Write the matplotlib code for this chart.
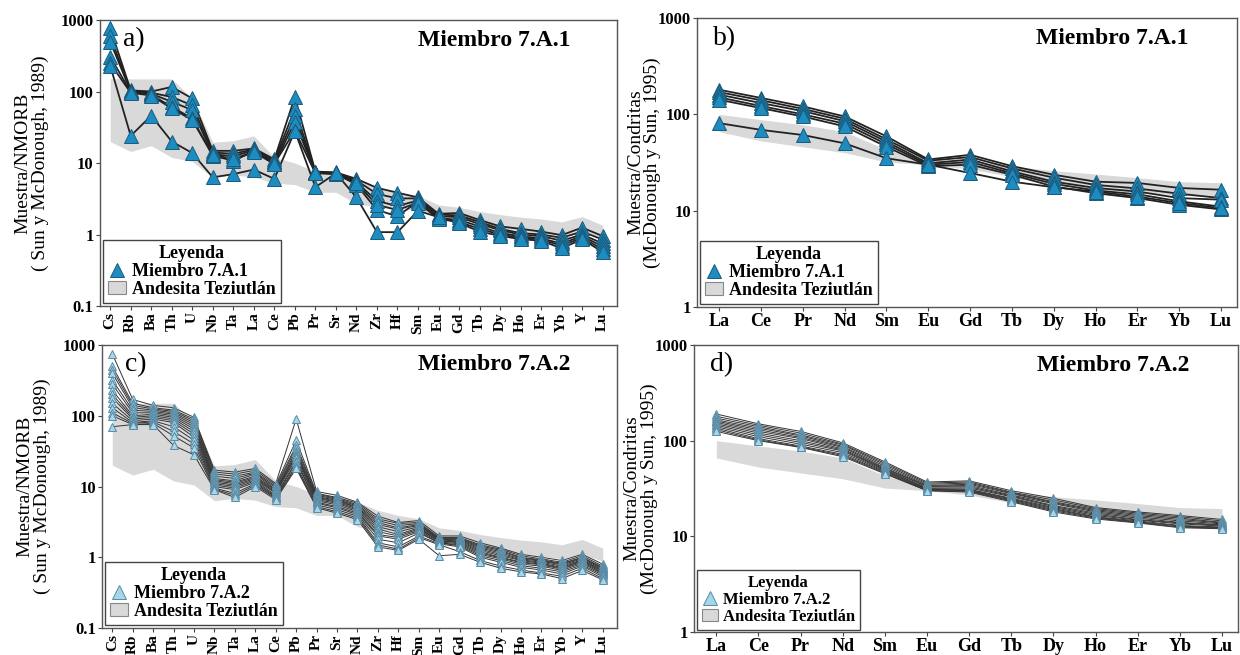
import numpy as np
import matplotlib.pyplot as plt
from matplotlib.lines import Line2D
from matplotlib.patches import Patch
from matplotlib.ticker import FixedLocator, FixedFormatter, NullLocator

plt.rcParams['font.family'] = ['Liberation Serif', 'DejaVu Serif']

# Element lists
spider_el = ["Cs", "Rb", "Ba", "Th", "U", "Nb", "Ta", "La", "Ce", "Pb", "Pr", "Sr", "Nd",
             "Zr", "Hf", "Sm", "Eu", "Gd", "Tb", "Dy", "Ho", "Er", "Yb", "Y", "Lu"]
ree_el = ["La", "Ce", "Pr", "Nd", "Sm", "Eu", "Gd", "Tb", "Dy", "Ho", "Er", "Yb", "Lu"]

# Andesita Teziutlan field (NMORB normalised)
band_spider_hi = [152, 150, 150, 150, 80, 19.5, 20.5, 24, 12, 10, 7.6, 7.4, 6.0,
                  4.6, 3.9, 3.5, 2.6, 2.4, 2.1, 1.9, 1.75, 1.65, 1.5, 1.78, 1.35]
band_spider_lo = [20, 14.5, 17.5, 12, 10.5, 6.3, 6.8, 6.4, 5.2, 5.0, 3.9, 3.9, 2.7,
                  2.4, 2.3, 2.2, 1.9, 1.7, 1.45, 1.25, 1.12, 1.03, 0.95, 1.1, 0.88]
# Andesita Teziutlan field (chondrite normalised)
band_ree_hi = [100, 88, 78, 66, 43, 34, 33, 29, 26, 24, 22, 20, 19.5]
band_ree_lo = [66, 53, 46, 40, 32, 30, 27, 22.5, 18.5, 16.5, 15.5, 14.5, 14]

# Miembro 7.A.1 - NMORB
m1_spider = [
    [770, 104, 100, 116, 80, 14.8, 14.8, 16, 11.3, 84, 7.6, 7.4, 6.0, 4.5, 3.85, 3.3, 1.95, 2.0, 1.6, 1.3, 1.2, 1.1, 0.98, 1.25, 0.95],
    [590, 102, 96, 84, 64, 14.0, 13.5, 15.5, 10.8, 57, 7.5, 7.3, 5.7, 3.7, 3.2, 3.2, 1.9, 1.85, 1.5, 1.2, 1.05, 1.0, 0.9, 1.1, 0.85],
    [500, 100, 93, 72, 55, 13.2, 12.5, 15, 10.2, 45, 7.4, 7.2, 5.4, 2.95, 2.5, 3.0, 1.8, 1.75, 1.4, 1.15, 1.0, 0.95, 0.82, 1.0, 0.75],
    [308, 98, 90, 61, 42, 12.6, 10.8, 14.5, 9.6, 37.5, 7.3, 7.1, 5.0, 2.2, 1.8, 2.9, 1.7, 1.6, 1.3, 1.05, 0.95, 0.88, 0.75, 0.95, 0.68],
    [248, 96, 88, 58, 40, 12.8, 11.5, 14.2, 9.8, 28.5, 7.2, 7.0, 5.2, 2.6, 2.2, 2.8, 1.65, 1.5, 1.2, 1.0, 0.9, 0.85, 0.7, 0.9, 0.62],
    [230, 24, 46, 20, 13.8, 6.3, 7.0, 8.1, 6.0, 28, 4.6, 7.2, 3.3, 1.08, 1.08, 2.15, 1.75, 1.45, 1.1, 0.96, 0.86, 0.82, 0.64, 0.86, 0.57],
]
# Miembro 7.A.1 - chondrite
m1_ree = [
    [180, 148, 121, 95, 59, 34, 38, 29, 23.6, 20, 19.4, 17.2, 16.5],
    [170, 140, 114, 90, 55, 33, 36, 27.5, 22, 18.5, 17, 15, 13.5],
    [160, 131, 108, 85, 52, 31, 34, 25.6, 20, 17.2, 15.8, 13.5, 13],
    [150, 122, 100, 80, 49, 30, 32, 24.5, 19, 16.2, 14.8, 12.5, 11],
    [142, 116, 95, 75, 46, 29, 30, 23.6, 17.8, 15.2, 13.5, 11.5, 10.3],
    [81, 69, 61, 50, 35, 30, 24.6, 20, 17.5, 15.8, 14, 12, 10.6],
]

# Miembro 7.A.2 - NMORB
m2_spider = [
    [750, 170, 140, 130, 95, 17, 16, 18, 11, 90, 8.5, 7.5, 6.0, 3.8, 3.1, 3.3, 2.0, 2.0, 1.6, 1.35, 1.1, 1.0, 0.9, 1.1, 0.8],
    [500, 150, 130, 120, 90, 16, 15, 17, 10.5, 45, 8.0, 7.0, 5.8, 3.5, 3.0, 3.1, 1.9, 1.9, 1.5, 1.3, 1.05, 0.95, 0.85, 1.05, 0.75],
    [450, 140, 125, 115, 85, 15, 14, 16, 10, 38, 7.8, 6.8, 5.5, 3.3, 2.8, 3.0, 1.85, 1.85, 1.45, 1.25, 1.0, 0.92, 0.82, 1.0, 0.72],
    [400, 130, 120, 110, 80, 14, 13, 15.5, 9.5, 35, 7.5, 6.6, 5.3, 3.1, 2.6, 2.9, 1.8, 1.8, 1.4, 1.2, 0.98, 0.9, 0.8, 0.98, 0.7],
    [320, 120, 115, 105, 75, 13, 12, 15, 9, 32, 7.2, 6.4, 5.1, 2.9, 2.5, 2.8, 1.8, 1.75, 1.35, 1.15, 0.95, 0.88, 0.78, 0.95, 0.68],
    [280, 110, 110, 100, 70, 12.5, 11.5, 14, 8.8, 30, 7.0, 6.2, 5.0, 2.7, 2.3, 2.7, 1.75, 1.7, 1.3, 1.1, 0.92, 0.85, 0.75, 0.92, 0.66],
    [230, 100, 105, 95, 65, 12, 11, 13.5, 8.5, 28, 6.8, 6.0, 4.8, 2.5, 2.1, 2.6, 1.7, 1.65, 1.25, 1.05, 0.9, 0.82, 0.72, 0.9, 0.64],
    [200, 95, 100, 90, 60, 11.5, 10.5, 13, 8.2, 27, 6.5, 5.8, 4.6, 2.3, 2.0, 2.5, 1.7, 1.6, 1.2, 1.0, 0.86, 0.8, 0.7, 0.88, 0.62],
    [180, 90, 95, 85, 55, 11, 10, 12.5, 8.0, 25, 6.3, 5.5, 4.4, 2.1, 1.9, 2.4, 1.65, 1.55, 1.15, 0.98, 0.84, 0.78, 0.68, 0.85, 0.6],
    [150, 85, 90, 80, 50, 10.5, 9.5, 12, 7.5, 23, 6.0, 5.2, 4.2, 2.0, 1.8, 2.3, 1.6, 1.5, 1.1, 0.95, 0.8, 0.75, 0.65, 0.82, 0.58],
    [130, 80, 85, 70, 45, 10, 9, 11.5, 7.2, 22, 5.8, 5.0, 4.0, 1.8, 1.6, 2.2, 1.6, 1.45, 1.05, 0.9, 0.76, 0.7, 0.62, 0.78, 0.56],
    [110, 78, 82, 60, 40, 9.5, 8, 11, 7.0, 20, 5.5, 4.7, 3.8, 1.6, 1.4, 2.0, 1.55, 1.4, 1.0, 0.85, 0.72, 0.66, 0.58, 0.75, 0.53],
    [100, 75, 78, 52, 35, 9.2, 7.5, 10.5, 6.8, 19, 5.2, 4.4, 3.6, 1.5, 1.3, 1.9, 1.5, 1.2, 0.9, 0.75, 0.66, 0.6, 0.54, 0.7, 0.5],
    [70, 75, 75, 38, 28, 9, 7, 10, 6.5, 18, 5.0, 4.2, 3.4, 1.4, 1.25, 1.8, 1.05, 1.1, 0.85, 0.7, 0.62, 0.58, 0.5, 0.65, 0.48],
]
# Miembro 7.A.2 - chondrite
m2_ree = [
    [190, 150, 125, 95, 60, 37, 38, 30, 25, 20, 18, 16.5, 15],
    [180, 145, 120, 92, 58, 36, 37, 29, 24, 19.5, 17.5, 16, 14.5],
    [172, 140, 115, 90, 56, 35, 36, 28.5, 23, 19, 17, 15.5, 14],
    [165, 135, 112, 87, 54, 34, 35, 28, 22.5, 18.5, 16.5, 15, 13.8],
    [160, 130, 108, 85, 52, 33.5, 34, 27, 22, 18, 16, 14.5, 13.5],
    [155, 125, 105, 82, 51, 33, 33, 26.5, 21, 17.5, 15.5, 14, 13.2],
    [150, 120, 100, 80, 50, 32, 32, 26, 20.5, 17, 15, 13.8, 13],
    [145, 115, 96, 78, 49, 31.5, 31, 25, 20, 16.5, 14.8, 13.5, 12.8],
    [140, 110, 92, 75, 48, 31, 30.5, 24.5, 19.5, 16, 14.5, 13, 12.5],
    [135, 105, 88, 72, 47, 30.5, 30, 24, 19, 15.8, 14.2, 12.8, 12.3],
    [130, 102, 86, 70, 46, 30, 29.5, 23.5, 18.5, 15.5, 14, 12.5, 12.2],
    [125, 100, 85, 68, 45, 30, 29, 23, 18, 15.2, 13.8, 12.3, 12],
]

dark_blue = "#1d8cc0"
dark_edge = "#1c5a7a"
light_blue = "#a6d6ea"
light_edge = "#5a8aa3"
band_col = "#d9d9d9"

fig = plt.figure(figsize=(12.4, 6.55), dpi=100)

panels = [
    # rect, elements, band hi, band lo, samples, label, member, ylabel, ylim, style
    ([0.0806, 0.5328, 0.417, 0.4366], spider_el, band_spider_hi, band_spider_lo, m1_spider,
     "a)", "Miembro 7.A.1", "Muestra/NMORB\n( Sun y McDonough, 1989)", (0.1, 1000), "bold"),
    ([0.5621, 0.5313, 0.4355, 0.4412], ree_el, band_ree_hi, band_ree_lo, m1_ree,
     "b)", "Miembro 7.A.1", "Muestra/Condritas\n(McDonough y Sun, 1995)", (1, 1000), "bold"),
    ([0.0823, 0.0412, 0.4153, 0.4321], spider_el, band_spider_hi, band_spider_lo, m2_spider,
     "c)", "Miembro 7.A.2", "Muestra/NMORB\n( Sun y McDonough, 1989)", (0.1, 1000), "light"),
    ([0.5597, 0.0351, 0.4387, 0.4382], ree_el, band_ree_hi, band_ree_lo, m2_ree,
     "d)", "Miembro 7.A.2", "Muestra/Condritas\n(McDonough y Sun, 1995)", (1, 1000), "light"),
]

for rect, elems, hi, lo, samples, lab, member, ylab, ylim, style in panels:
    ax = fig.add_axes(rect)
    x = np.arange(len(elems))
    ax.fill_between(x, lo, hi, color=band_col, lw=0, zorder=1)

    if style == "bold":
        fc, ec, ms, lw, lc = dark_blue, dark_edge, 10, 1.3, "#222222"
    else:
        fc, ec, ms, lw, lc = light_blue, light_edge, 6, 0.7, "#333333"
    for s in samples:
        ax.plot(x, s, color=lc, lw=lw, zorder=2)
    for s in samples:
        ax.plot(x, s, ls="none", marker="^", ms=ms, mfc=fc, mec=ec, mew=0.7, zorder=3)

    ax.set_yscale("log")
    ax.set_ylim(*ylim)
    ticks = [t for t in [0.1, 1, 10, 100, 1000] if ylim[0] <= t <= ylim[1]]
    ax.yaxis.set_major_locator(FixedLocator(ticks))
    ax.yaxis.set_major_formatter(FixedFormatter(["%g" % t for t in ticks]))
    ax.yaxis.set_minor_locator(NullLocator())

    spider = len(elems) > 13
    if spider:
        ax.set_xlim(-0.5, len(elems) - 0.3)
        ax.set_xticks(x)
        ax.set_xticklabels(elems, rotation=90, fontweight="bold", fontsize=11)
        ax.yaxis.set_label_coords(-0.099, 0.55)
    else:
        ax.set_xlim(-0.53, len(elems) - 0.62)
        ax.set_xticks(x)
        ax.set_xticklabels(elems, fontweight="bold", fontsize=13)
        ax.yaxis.set_label_coords(-0.066, 0.55)
    for t in ax.get_yticklabels():
        t.set_fontweight("bold")
        t.set_fontsize(12)
    ax.tick_params(direction="out", length=3, width=0.8, colors="#444444",
                   labelcolor="black", pad=1.5)
    for sp in ax.spines.values():
        sp.set_color("#555555")
        sp.set_linewidth(1.0)

    ax.set_ylabel(ylab, fontsize=14, linespacing=1.0)

    ax.text(0.045 if spider else 0.03, 0.93, lab, transform=ax.transAxes,
            fontsize=20, ha="left", va="center")
    ax.text(0.91, 0.93, member, transform=ax.transAxes, fontsize=17,
            fontweight="bold", ha="right", va="center")

    small = (style == "light" and not spider)
    handles = [
        Line2D([], [], ls="none", marker="^", ms=ms if style == "bold" else 10,
               mfc=fc, mec=ec, mew=0.7),
        Patch(facecolor=band_col, edgecolor="#888888", lw=0.8),
    ]
    leg = ax.legend(handles, [member, "Andesita Teziutlán"], title="Leyenda",
                    loc="lower left", borderaxespad=0.15, fancybox=False,
                    edgecolor="#444444", framealpha=1,
                    prop={"weight": "bold", "size": 12 if small else 13},
                    handlelength=1.0, handletextpad=0.3, labelspacing=0.05,
                    borderpad=0.3)
    leg.get_title().set_fontweight("bold")
    leg.get_title().set_fontsize(12 if small else 13)
    leg.get_frame().set_linewidth(1.0)

fig.savefig("out.png", dpi=100)
